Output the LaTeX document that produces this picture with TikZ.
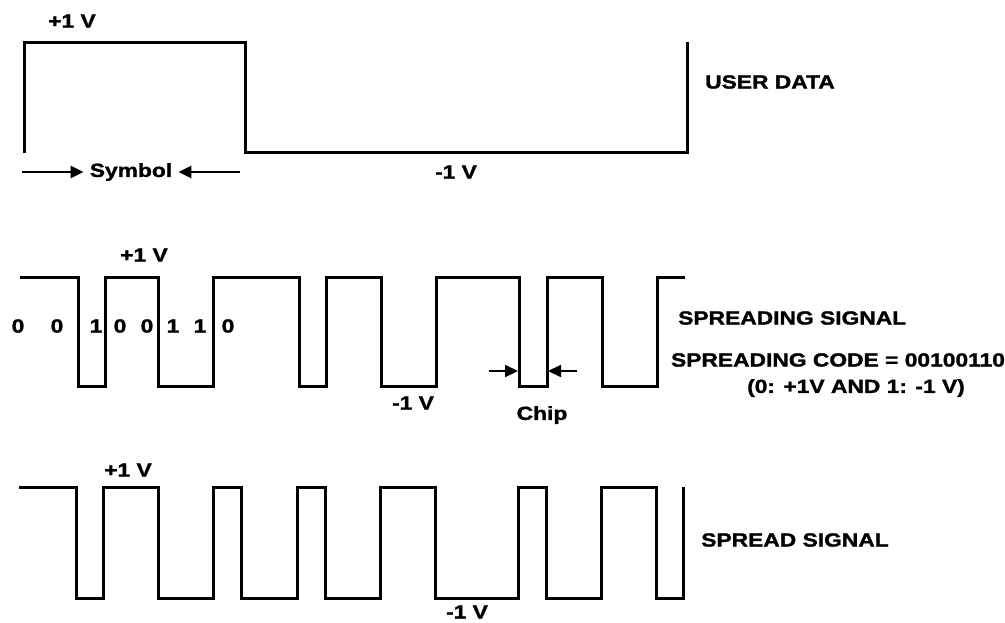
\documentclass[tikz,border=0pt]{standalone}
\usepackage{fontspec}
\newfontfamily\lblfont{Liberation Sans Bold}[FakeStretch=1.2, FakeBold=1.5]
\usetikzlibrary{arrows.meta}
\tikzset{
  sig/.style={line width=3pt, line join=miter},
  lbl/.style={font=\lblfont\fontsize{19}{22}\selectfont, inner sep=0pt},
  arr/.style={line width=2.2pt, -{Triangle[length=13pt,width=12pt]}}
}
\begin{document}
\begin{tikzpicture}[x=1pt,y=-1pt]
\useasboundingbox (0,0) rectangle (1005,622);
% user data
\draw[sig] (24,153) |- (245,42) |- (687,152) -- (687,42);
\node[lbl] (udp) at (72,21) {+1 V};
\node[lbl] (sym) at (131,172) {Symbol};
\node[lbl] (udm) at (456,172) {-1 V};
\node[lbl] (udt) at (770,82) {USER DATA};
\coordinate (sa) at (22,172);
\coordinate (sb) at (240,172);
\draw[arr] (sa) -- ([xshift=-6pt]sym.west);
\draw[arr] (sb) -- ([xshift=6pt]sym.east);
% spreading signal
\draw[sig] (20,277) -| (78,386) -| (105,277) -| (158,386) -| (213,277) -| (299,386) -| (326,277) -| (381,386) -| (436,277) -| (519,386) -| (547,277) -| (602,386) -| (657,277) -- (685,277);
\node[lbl] (sgp) at (144,255) {+1 V};
\foreach \x/\d [count=\i] in {18/0,57/0,96/1,120/0,147/0,173/1,200/1,228/0}
  \node[lbl] (c\i) at (\x,326) {\d};
\node[lbl] (sgm) at (413,403) {-1 V};
\node[lbl] (chip) at (542,415) {Chip};
\node[lbl, anchor=west] (sgt) at (678,318) {SPREADING SIGNAL};
\node[lbl] (code) at (838,360) {SPREADING CODE = 00100110};
\node[lbl] (code2) at (856,388) {(0: +1V AND 1: -1 V)};
\coordinate (ca) at (489,371);
\coordinate (cat) at (518,371);
\coordinate (cb) at (577,371);
\coordinate (cbt) at (548,371);
\draw[arr] (ca) -- (cat);
\draw[arr] (cb) -- (cbt);
% spread signal
\draw[sig] (19,487) -| (76,598) -| (103,487) -| (158,598) -| (213,487) -| (241,598) -| (297,487) -| (325,598) -| (380,487) -| (435,598) -| (518,487) -| (546,598) -| (601,487) -| (656,598) -| (683,487);
\node[lbl] (spp) at (128,470) {+1 V};
\node[lbl] (spm) at (467,612) {-1 V};
\node[lbl] (spt) at (795,540) {SPREAD SIGNAL};
\end{tikzpicture}
\end{document}
